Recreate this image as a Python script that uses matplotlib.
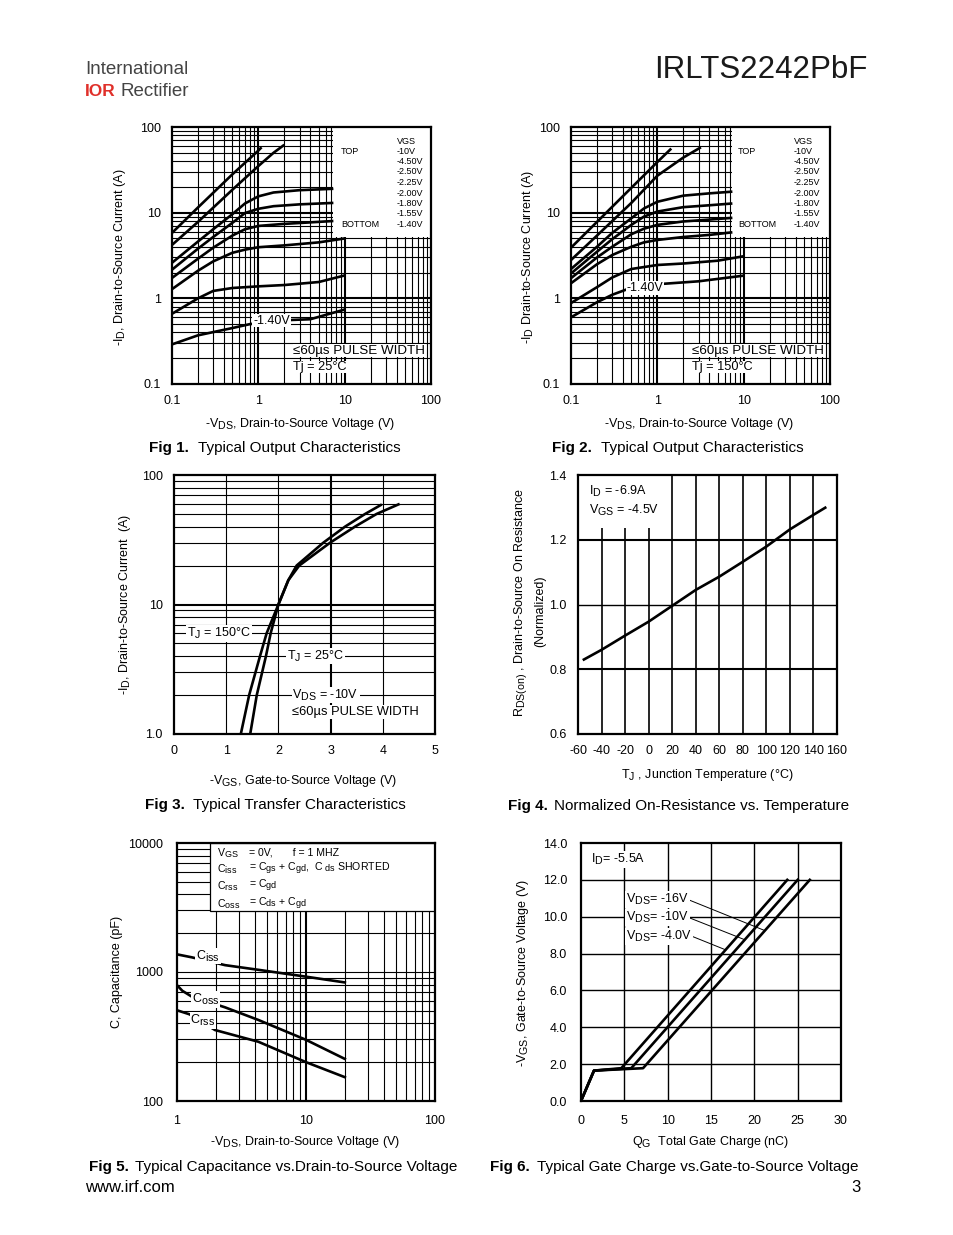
import numpy as np
import matplotlib
matplotlib.use('Agg')
import matplotlib.pyplot as plt
from matplotlib.patches import Rectangle
import matplotlib.ticker as mt
import matplotlib._mathtext as _mtx

_mtx.SHRINK_FACTOR = 0.85  # datasheet-style larger subscripts

plt.rcParams['font.family'] = ['Liberation Sans', 'DejaVu Sans']
plt.rcParams['mathtext.fontset'] = 'custom'
plt.rcParams['mathtext.rm'] = 'Liberation Sans'
plt.rcParams['mathtext.it'] = 'Liberation Sans'
plt.rcParams['mathtext.bf'] = 'Liberation Sans:bold'

# ---------------- data ----------------
# Fig 1 (Tj = 25C) output characteristics
f1_x_10 = [0.1, 0.2, 0.5, 1.0, 1.09]
f1_y_10 = [5.8, 11.5, 28, 53, 58]
f1_x_450 = [0.1, 0.2, 0.5, 1.0, 1.5, 2.0]
f1_y_450 = [4.2, 7.8, 18.5, 35, 50, 62]
f1_x_250 = [0.1, 0.2, 0.3, 0.5, 0.7, 1.0, 1.5, 3.0, 7.4]
f1_y_250 = [2.6, 4.6, 6.4, 9.6, 12.8, 15.5, 17.2, 18.3, 19.0]
f1_x_225 = [0.1, 0.2, 0.3, 0.5, 0.7, 1.0, 1.5, 3.0, 7.4]
f1_y_225 = [2.16, 3.8, 5.2, 7.6, 9.9, 11.1, 11.9, 12.5, 13.0]
f1_x_200 = [0.1, 0.2, 0.3, 0.5, 0.7, 1.0, 2.0, 4.0, 7.4]
f1_y_200 = [1.73, 2.9, 3.9, 5.4, 6.4, 7.0, 7.4, 7.7, 8.0]
f1_x_180 = [0.1, 0.2, 0.3, 0.5, 0.7, 1.0, 2.0, 5.0, 10.0]
f1_y_180 = [1.28, 2.1, 2.7, 3.4, 3.7, 3.95, 4.15, 4.5, 5.0]
f1_x_155 = [0.1, 0.2, 0.3, 0.5, 1.0, 2.0, 5.0, 10.0]
f1_y_155 = [0.66, 1.0, 1.22, 1.32, 1.38, 1.43, 1.55, 1.85]
f1_x_140 = [0.1, 0.2, 0.5, 0.8, 1.5, 2.5, 4.0, 10.0]
f1_y_140 = [0.29, 0.37, 0.45, 0.50, 0.54, 0.56, 0.57, 0.74]

# Fig 2 (Tj = 150C)
f2_x_10 = [0.1, 0.2, 0.5, 1.0, 1.45]
f2_y_10 = [3.9, 7.8, 19.5, 39, 56]
f2_x_450 = [0.1, 0.2, 0.5, 1.0, 2.0, 3.2]
f2_y_450 = [2.8, 5.4, 13, 27, 44, 58]
f2_x_250 = [0.1, 0.2, 0.3, 0.5, 0.7, 1.0, 2.0, 4.0, 7.4]
f2_y_250 = [2.2, 4.0, 5.8, 8.6, 11.2, 13.4, 15.8, 16.8, 17.6]
f2_x_225 = [0.1, 0.2, 0.3, 0.5, 0.7, 1.0, 2.0, 4.0, 7.4]
f2_y_225 = [1.95, 3.5, 4.9, 7.2, 9.0, 10.3, 11.6, 12.2, 12.8]
f2_x_200 = [0.1, 0.2, 0.3, 0.5, 0.7, 1.0, 2.0, 4.0, 7.4]
f2_y_200 = [1.72, 3.0, 4.0, 5.6, 6.5, 7.2, 7.9, 8.3, 8.7]
f2_x_180 = [0.1, 0.2, 0.3, 0.5, 0.7, 1.0, 2.0, 4.0, 7.4]
f2_y_180 = [1.5, 2.5, 3.2, 4.0, 4.5, 4.8, 5.2, 5.5, 5.9]
f2_x_155 = [0.1, 0.2, 0.3, 0.5, 1.0, 2.0, 5.0, 10.0]
f2_y_155 = [0.88, 1.35, 1.75, 2.2, 2.45, 2.55, 2.75, 3.1]
f2_x_140 = [0.1, 0.2, 0.3, 0.45, 0.7, 1.2, 3.0, 10.0]
f2_y_140 = [0.6, 0.9, 1.1, 1.28, 1.4, 1.48, 1.58, 1.84]

vgs_labels = ['-10V', '-4.50V', '-2.50V', '-2.25V', '-2.00V', '-1.80V', '-1.55V', '-1.40V']

# Fig 3 transfer characteristics
f3_v_25 = [1.46, 1.586, 1.762, 1.852, 2.0, 2.19, 2.35, 2.86, 3.28, 3.66, 3.96]
f3_i_25 = [1.0, 2.0, 4.0, 6.0, 10, 15.4, 20, 30, 40, 50, 58.6]
f3_v_150 = [1.28, 1.44, 1.648, 1.775, 2.0, 2.19, 2.40, 2.99, 3.47, 3.88, 4.30]
f3_i_150 = [1.0, 2.0, 4.0, 6.0, 10, 15.4, 20, 30, 40, 50, 59.3]

# Fig 4 normalized Rds(on) vs temperature
f4_t = [-55, -40, -20, 0, 20, 40, 60, 80, 100, 120, 140, 150]
f4_r = [0.83, 0.86, 0.904, 0.947, 0.996, 1.045, 1.086, 1.132, 1.179, 1.232, 1.277, 1.299]

# Fig 5 capacitance
f5_v_ciss = [1.0, 1.3, 2.36, 4.27, 10.0, 20.0]
f5_c_ciss = [1370, 1300, 1130, 1040, 920, 830]
f5_v_coss = [1.0, 1.1, 1.3, 2.36, 4.27, 10.0, 20.0]
f5_c_coss = [790, 715, 645, 532, 425, 298, 212]
f5_v_crss = [1.0, 1.25, 1.97, 4.27, 10.0, 20.0]
f5_c_crss = [505, 470, 355, 288, 200, 153]

# Fig 6 gate charge
f6_q_4 = [0, 1.5, 4.65, 23.8]
f6_v_4 = [0, 1.65, 1.78, 12.0]
f6_q_10 = [0, 1.5, 5.8, 25.0]
f6_v_10 = [0, 1.65, 1.78, 12.0]
f6_q_16 = [0, 1.5, 7.16, 26.4]
f6_v_16 = [0, 1.65, 1.78, 12.0]

# ---------------- layout helpers ----------------
W, H = 954, 1235
fig = plt.figure(figsize=(W / 100, H / 100), dpi=100)

def axes_px(l, t, r, b):
    return fig.add_axes([l / W, 1 - b / H, (r - l) / W, (b - t) / H])

def ftext(x, y, s, **kw):
    return fig.text(x / W, 1 - y / H, s, **kw)

LW = 1.9
TFS = 9

def base_style(ax, pad=8):
    ax.tick_params(which='both', length=0, labelsize=TFS, pad=pad, colors='black')
    for s in ax.spines.values():
        s.set_linewidth(1.6)
        s.set_zorder(5)
    ax.set_axisbelow(True)

def log_grid(ax, axis, lo_exp, hi_exp, major_lw=1.5):
    for e in range(lo_exp, hi_exp):
        for m in range(1, 10):
            v = m * 10.0 ** e
            if e == lo_exp and m == 1:
                continue
            lw = major_lw if m == 1 else 0.8
            if axis == 'x':
                ax.axvline(v, color='black', lw=lw, zorder=0.5)
            else:
                ax.axhline(v, color='black', lw=lw, zorder=0.5)

white_bg = dict(facecolor='white', edgecolor='none', pad=0.6)

# ---------------- header ----------------
ftext(85, 70, 'International', fontsize=13.5, color='#444444', va='center', ha='left')
ftext(85, 91, 'IOR', fontsize=12.5, color='#e0302a', fontweight='bold', va='center', ha='left')
ftext(121, 91, 'Rectifier', fontsize=13.5, color='#444444', va='center', ha='left')
ftext(868, 70, 'IRLTS2242PbF', fontsize=22.5, color='#1a1a1a', va='center', ha='right')

# ---------------- Fig 1 & 2 ----------------
def output_chart(ax, curves, tj_text, lab_xy, leg_x0):
    base_style(ax)
    ax.set_xscale('log')
    ax.set_yscale('log')
    ax.set_xlim(0.1, 100)
    ax.set_ylim(0.1, 100)
    log_grid(ax, 'x', -1, 2)
    log_grid(ax, 'y', -1, 2)
    ax.add_patch(Rectangle((leg_x0, 5.2), 100 - leg_x0, 100 - 5.2, facecolor='white',
                           edgecolor='none', zorder=1))
    for xs, ys in curves:
        ax.plot(xs, ys, color='black', lw=LW, zorder=2, solid_capstyle='butt')
    ax.set_xticks([0.1, 1, 10, 100])
    ax.set_xticklabels(['0.1', '1', '10', '100'])
    ax.set_yticks([0.1, 1, 10, 100])
    ax.set_yticklabels(['0.1', '1', '10', '100'])
    ax.xaxis.set_minor_locator(mt.NullLocator())
    ax.yaxis.set_minor_locator(mt.NullLocator())
    ax.text(lab_xy[0], lab_xy[1], '-1.40V', fontsize=9, ha='center', va='center',
            bbox=white_bg, zorder=3)
    ax.text(0.468, 0.13, '\u226460\u00b5s PULSE WIDTH', transform=ax.transAxes, fontsize=9.6,
            ha='left', va='center', bbox=dict(facecolor='white', edgecolor='none', pad=0.3), zorder=3)
    ax.text(0.468, 0.066, tj_text, transform=ax.transAxes, fontsize=9.2,
            ha='left', va='center', bbox=dict(facecolor='white', edgecolor='none', pad=0.3), zorder=3)

def output_legend(x_top, x_vgs):
    ftext(x_vgs, 141, 'VGS', fontsize=6.5, va='center', ha='left')
    ftext(x_top, 151, 'TOP', fontsize=6.5, va='center', ha='left')
    ftext(x_top, 224.5, 'BOTTOM', fontsize=6.5, va='center', ha='left')
    for i, lab in enumerate(vgs_labels):
        ftext(x_vgs, 151 + i * 10.5, lab, fontsize=6.5, va='center', ha='left')

ax1 = axes_px(172, 127, 431, 384)
output_chart(ax1, [(f1_x_10, f1_y_10), (f1_x_450, f1_y_450), (f1_x_250, f1_y_250),
                   (f1_x_225, f1_y_225), (f1_x_200, f1_y_200), (f1_x_180, f1_y_180),
                   (f1_x_155, f1_y_155), (f1_x_140, f1_y_140)],
             'Tj = 25\u00b0C', (1.42, 0.55), 7.35)
output_legend(341, 397)

ax2 = axes_px(571, 127, 830, 384)
output_chart(ax2, [(f2_x_10, f2_y_10), (f2_x_450, f2_y_450), (f2_x_250, f2_y_250),
                   (f2_x_225, f2_y_225), (f2_x_200, f2_y_200), (f2_x_180, f2_y_180),
                   (f2_x_155, f2_y_155), (f2_x_140, f2_y_140)],
             'Tj = 150\u00b0C', (0.72, 1.32), 7.3)
output_legend(738, 794)

ftext(120, 257, '-I$_{\\mathregular{D}}$, Drain-to-Source Current (A)', fontsize=9, rotation=90,
      ha='center', va='center')
ftext(528, 257, '-I$_{\\mathregular{D}}$ Drain-to-Source Current (A)', fontsize=9, rotation=90,
      ha='center', va='center')
ftext(300, 424, '-V$_{\\mathregular{DS}}$, Drain-to-Source Voltage (V)', fontsize=9,
      ha='center', va='center')
ftext(699, 424, '-V$_{\\mathregular{DS}}$, Drain-to-Source Voltage (V)', fontsize=9,
      ha='center', va='center')

def caption(x, y, num, txt, dx=49):
    ftext(x, y, num, fontsize=11, fontweight='bold', va='center', ha='left')
    ftext(x + dx, y, txt, fontsize=11, va='center', ha='left')

caption(149, 448, 'Fig 1.', 'Typical Output Characteristics')
caption(552, 448, 'Fig 2.', 'Typical Output Characteristics')

# ---------------- Fig 3 ----------------
ax3 = axes_px(174, 475, 435, 734)
base_style(ax3)
ax3.set_yscale('log')
ax3.set_xlim(0, 5)
ax3.set_ylim(1, 100)
for v in [1, 2, 3, 4]:
    ax3.axvline(v, color='black', lw=1.5 if v == 3 else 0.8, zorder=0.5)
log_grid(ax3, 'y', 0, 2)
ax3.plot(f3_v_25, f3_i_25, color='black', lw=LW, zorder=2)
ax3.plot(f3_v_150, f3_i_150, color='black', lw=LW, zorder=2)
ax3.set_xticks([0, 1, 2, 3, 4, 5])
ax3.set_xticklabels(['0', '1', '2', '3', '4', '5'])
ax3.set_yticks([1, 10, 100])
ax3.set_yticklabels(['1.0', '10', '100'])
ax3.yaxis.set_minor_locator(mt.NullLocator())
ax3.text(0.25, 6, 'T$_{\\mathregular{J}}$ = 150\u00b0C', fontsize=9, ha='left', va='center',
         bbox=white_bg, zorder=3)
ax3.text(2.17, 4, 'T$_{\\mathregular{J}}$ = 25\u00b0C', fontsize=9, ha='left', va='center',
         bbox=white_bg, zorder=3)
ax3.text(2.27, 2, 'V$_{\\mathregular{DS}}$ = -10V', fontsize=9, ha='left', va='center',
         bbox=white_bg, zorder=3)
ax3.text(2.27, 1.48, '\u226460\u00b5s PULSE WIDTH', fontsize=9.3, ha='left', va='center',
         bbox=white_bg, zorder=3)
ftext(125, 605, '-I$_{\\mathregular{D}}$, Drain-to-Source Current  (A)', fontsize=9, rotation=90,
      ha='center', va='center')
ftext(303, 781, '-V$_{\\mathregular{GS}}$, Gate-to-Source Voltage (V)', fontsize=9,
      ha='center', va='center')
caption(145, 805, 'Fig 3.', 'Typical Transfer Characteristics', dx=48)

# ---------------- Fig 4 ----------------
ax4 = axes_px(578, 475, 837, 734)
base_style(ax4)
ax4.set_xlim(-60, 160)
ax4.set_ylim(0.6, 1.4)
for v in range(-40, 160, 20):
    ax4.axvline(v, color='black', lw=1.2, zorder=0.5)
for v in [0.8, 1.0, 1.2]:
    ax4.axhline(v, color='black', lw=1.0 if v == 1.0 else 1.5, zorder=0.5)
ax4.add_patch(Rectangle((-60, 1.235), 72, 0.2, facecolor='white', edgecolor='none', zorder=1))
ax4.plot(f4_t, f4_r, color='black', lw=LW, zorder=2)
ax4.set_xticks(list(range(-60, 161, 20)))
ax4.set_xticklabels([str(v) for v in range(-60, 161, 20)])
ax4.set_yticks([0.6, 0.8, 1.0, 1.2, 1.4])
ax4.set_yticklabels(['0.6', '0.8', '1.0', '1.2', '1.4'])
ax4.text(-50.5, 1.35, 'I$_{\\mathregular{D}}$ = -6.9A', fontsize=9, ha='left', va='center', zorder=3)
ax4.text(-50.5, 1.29, 'V$_{\\mathregular{GS}}$ = -4.5V', fontsize=9, ha='left', va='center', zorder=3)
ftext(521, 603, 'R$_{\\mathregular{DS(on)}}$ , Drain-to-Source On Resistance', fontsize=9,
      rotation=90, ha='center', va='center')
ftext(540, 611, '(Normalized)', fontsize=9, rotation=90, ha='center', va='center')
ftext(707, 775, 'T$_{\\mathregular{J}}$ , Junction Temperature (\u00b0C)', fontsize=9,
      ha='center', va='center')
caption(508, 806, 'Fig 4.', 'Normalized On-Resistance vs. Temperature', dx=46)

# ---------------- Fig 5 ----------------
ax5 = axes_px(177, 843, 435, 1101)
base_style(ax5, pad=10)
ax5.set_xscale('log')
ax5.set_yscale('log')
ax5.set_xlim(1, 100)
ax5.set_ylim(100, 10000)
log_grid(ax5, 'x', 0, 2)
log_grid(ax5, 'y', 2, 4, major_lw=0.8)
ax5.add_patch(Rectangle((1.79, 2950), 100 - 1.79, 10000 - 2950, facecolor='white',
                        edgecolor='black', lw=0.9, zorder=1))
ax5.plot(f5_v_ciss, f5_c_ciss, color='black', lw=LW, zorder=2)
ax5.plot(f5_v_coss, f5_c_coss, color='black', lw=LW, zorder=2)
ax5.plot(f5_v_crss, f5_c_crss, color='black', lw=LW, zorder=2)
ax5.set_xticks([1, 10, 100])
ax5.set_xticklabels(['1', '10', '100'])
ax5.set_yticks([100, 1000, 10000])
ax5.set_yticklabels(['100', '1000', '10000'])
ax5.xaxis.set_minor_locator(mt.NullLocator())
ax5.yaxis.set_minor_locator(mt.NullLocator())
ax5.text(1.41, 1330, 'C$_{\\mathregular{iss}}$', fontsize=9, ha='left', va='center',
         bbox=white_bg, zorder=3)
ax5.text(1.31, 610, 'C$_{\\mathregular{oss}}$', fontsize=9, ha='left', va='center',
         bbox=white_bg, zorder=3)
ax5.text(1.27, 420, 'C$_{\\mathregular{rss}}$', fontsize=9, ha='left', va='center',
         bbox=white_bg, zorder=3)
fs5 = 7.6
ax5.text(0.155, 0.962, 'V$_{\\mathregular{GS}}$', transform=ax5.transAxes, fontsize=fs5, va='center', zorder=3)
ax5.text(0.28, 0.962, '= 0V,       f = 1 MHZ', transform=ax5.transAxes, fontsize=fs5, va='center', zorder=3)
ax5.text(0.155, 0.900, 'C$_{\\mathregular{iss}}$', transform=ax5.transAxes, fontsize=fs5, va='center', zorder=3)
ax5.text(0.28, 0.900, '= C$_{\\mathregular{gs}}$ + C$_{\\mathregular{gd}}$,  C $_{\\mathregular{ds}}$ SHORTED',
         transform=ax5.transAxes, fontsize=fs5, va='center', zorder=3)
ax5.text(0.155, 0.832, 'C$_{\\mathregular{rss}}$', transform=ax5.transAxes, fontsize=fs5, va='center', zorder=3)
ax5.text(0.28, 0.832, '= C$_{\\mathregular{gd}}$', transform=ax5.transAxes, fontsize=fs5, va='center', zorder=3)
ax5.text(0.155, 0.764, 'C$_{\\mathregular{oss}}$', transform=ax5.transAxes, fontsize=fs5, va='center', zorder=3)
ax5.text(0.28, 0.764, '= C$_{\\mathregular{ds}}$ + C$_{\\mathregular{gd}}$', transform=ax5.transAxes,
         fontsize=fs5, va='center', zorder=3)
ftext(117, 972, 'C, Capacitance (pF)', fontsize=9, rotation=90, ha='center', va='center')
ftext(305, 1142, '-V$_{\\mathregular{DS}}$, Drain-to-Source Voltage (V)', fontsize=9,
      ha='center', va='center')
caption(89, 1167, 'Fig 5.', 'Typical Capacitance vs.Drain-to-Source Voltage', dx=46)

# ---------------- Fig 6 ----------------
ax6 = axes_px(581, 843, 841, 1101)
base_style(ax6, pad=10)
ax6.set_xlim(0, 30)
ax6.set_ylim(0, 14)
for v in [5, 10, 15, 20, 25]:
    ax6.axvline(v, color='black', lw=1.0, zorder=0.5)
for v in [2, 4, 6, 8, 10, 12]:
    ax6.axhline(v, color='black', lw=1.0, zorder=0.5)
ax6.plot(f6_q_4, f6_v_4, color='black', lw=LW, zorder=2)
ax6.plot(f6_q_10, f6_v_10, color='black', lw=LW, zorder=2)
ax6.plot(f6_q_16, f6_v_16, color='black', lw=LW, zorder=2)
ax6.plot([12.3, 21.2], [10.94, 9.25], color='black', lw=0.7, zorder=2)
ax6.plot([12.4, 18.9], [9.96, 8.75], color='black', lw=0.7, zorder=2)
ax6.plot([12.9, 16.7], [8.92, 8.2], color='black', lw=0.7, zorder=2)
ax6.set_xticks([0, 5, 10, 15, 20, 25, 30])
ax6.set_xticklabels(['0', '5', '10', '15', '20', '25', '30'])
ax6.set_yticks([0, 2, 4, 6, 8, 10, 12, 14])
ax6.set_yticklabels(['0.0', '2.0', '4.0', '6.0', '8.0', '10.0', '12.0', '14.0'])
ax6.text(1.15, 13.1, 'I$_{\\mathregular{D}}$= -5.5A', fontsize=9, ha='left', va='center',
         bbox=white_bg, zorder=3)
ax6.text(5.2, 10.94, 'V$_{\\mathregular{DS}}$= -16V', fontsize=9, ha='left', va='center',
         bbox=white_bg, zorder=3)
ax6.text(5.2, 9.96, 'V$_{\\mathregular{DS}}$= -10V', fontsize=9, ha='left', va='center',
         bbox=white_bg, zorder=3)
ax6.text(5.2, 8.92, 'V$_{\\mathregular{DS}}$= -4.0V', fontsize=9, ha='left', va='center',
         bbox=white_bg, zorder=3)
ftext(523, 973, '-V$_{\\mathregular{GS}}$, Gate-to-Source Voltage (V)', fontsize=9, rotation=90,
      ha='center', va='center')
ftext(711, 1142, 'Q$_{\\mathregular{G}}$  Total Gate Charge (nC)', fontsize=9,
      ha='center', va='center')
caption(490, 1167, 'Fig 6.', 'Typical Gate Charge vs.Gate-to-Source Voltage', dx=47)

# ---------------- footer ----------------
ftext(85, 1188, 'www.irf.com', fontsize=12, va='center', ha='left')
ftext(861, 1188, '3', fontsize=12, va='center', ha='right')

fig.savefig('out.png', dpi=100, facecolor='white')
